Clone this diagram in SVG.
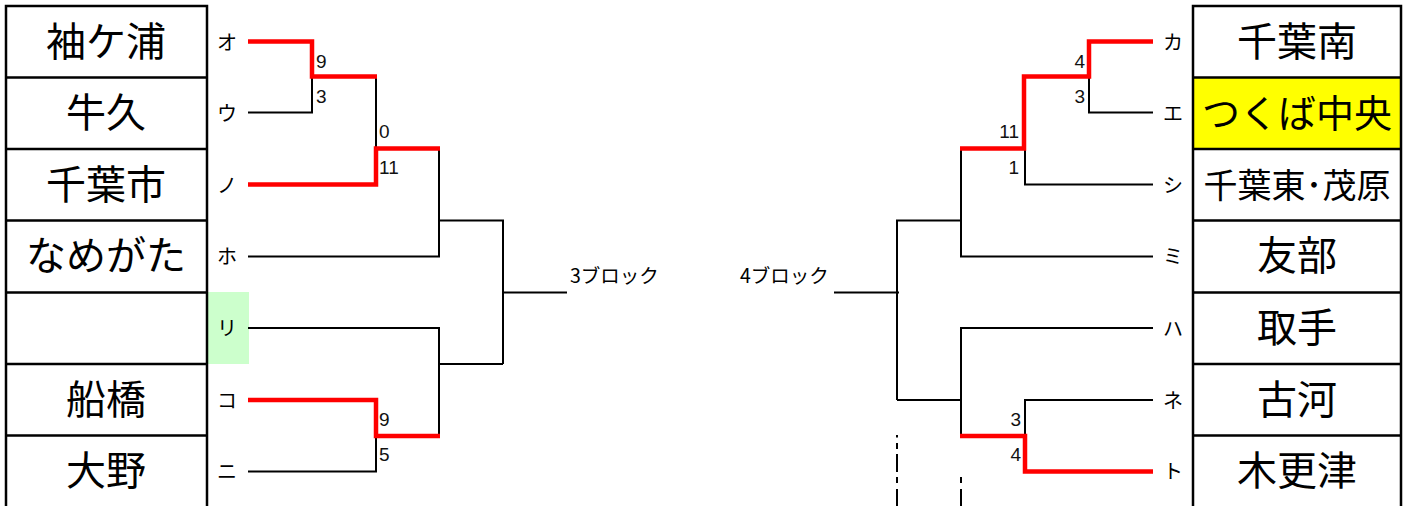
<svg xmlns="http://www.w3.org/2000/svg" width="1408" height="506" viewBox="0 0 1408 506">
<style>
.team{font-family:"Noto Sans CJK JP","Liberation Sans",sans-serif;font-size:40px;fill:#000;text-anchor:middle;dominant-baseline:central}
.kana{font-family:"Noto Sans CJK JP",sans-serif;font-size:20px;fill:#000;text-anchor:middle;dominant-baseline:central}
.score{font-family:"Liberation Sans","Noto Sans CJK JP",sans-serif;font-size:19px;fill:#111;dominant-baseline:central}
.blk{font-family:"Noto Sans CJK JP","Liberation Sans",sans-serif;font-size:19.5px;fill:#000;dominant-baseline:central}
.box{fill:none;stroke:#000;stroke-width:2.5}
.ln{fill:none;stroke:#000;stroke-width:2}
.win{fill:none;stroke:#ff0000;stroke-width:4.5;stroke-linejoin:miter}
</style>
<rect width="1408" height="506" fill="#fff"/>
<!-- highlight cells -->
<rect x="207" y="292" width="42" height="72" fill="#ccffcc"/>
<rect x="1193" y="77" width="208" height="72" fill="#ffff00"/>
<!-- team tables -->
<g id="left-table">
<path class="box" d="M6 506 V6 H207 V506 M6 77.5 H207 M6 149 H207 M6 220.5 H207 M6 292.5 H207 M6 364 H207 M6 435.5 H207"/>
</g>
<g id="right-table">
<path class="box" d="M1193 506 V6 H1401 V506 M1193 77.5 H1401 M1193 149 H1401 M1193 220.5 H1401 M1193 292.5 H1401 M1193 364 H1401 M1193 435.5 H1401"/>
</g>
<!-- left teams -->
<g id="team-sodegaura"><text class="team" x="106" y="39">袖ケ浦</text><text class="kana" x="227" y="41">オ</text></g>
<g id="team-ushiku"><text class="team" x="106" y="110">牛久</text><text class="kana" x="227" y="112">ウ</text></g>
<g id="team-chibashi"><text class="team" x="106" y="182">千葉市</text><text class="kana" x="227" y="184">ノ</text></g>
<g id="team-namegata"><text class="team" x="106" y="253">なめがた</text><text class="kana" x="227" y="255">ホ</text></g>
<g id="team-blank"><text class="kana" x="227" y="327">リ</text></g>
<g id="team-funabashi"><text class="team" x="106" y="397">船橋</text><text class="kana" x="227" y="399">コ</text></g>
<g id="team-ono"><text class="team" x="106" y="468">大野</text><text class="kana" x="227" y="470">ニ</text></g>
<!-- right teams -->
<g id="team-chibaminami"><text class="team" x="1297" y="39">千葉南</text><text class="kana" x="1173" y="41">カ</text></g>
<g id="team-tsukubachuo"><text class="team" x="1297" y="110" style="font-size:38px">つくば中央</text><text class="kana" x="1173" y="112">エ</text></g>
<g id="team-chibahigashi"><text class="team" x="1297" y="183" style="font-size:34px">千葉東･茂原</text><text class="kana" x="1173" y="184">シ</text></g>
<g id="team-yuube"><text class="team" x="1297" y="253">友部</text><text class="kana" x="1173" y="255">ミ</text></g>
<g id="team-toride"><text class="team" x="1297" y="325">取手</text><text class="kana" x="1173" y="327">ハ</text></g>
<g id="team-koga"><text class="team" x="1297" y="397">古河</text><text class="kana" x="1173" y="399">ネ</text></g>
<g id="team-kisarazu"><text class="team" x="1297" y="468">木更津</text><text class="kana" x="1173" y="470">ト</text></g>
<!-- connectors -->
<g id="connectors">
<path class="ln" d="M248 112.5 H312 V76 M376 76 V148 M248 256.5 H439 V148 M439 220.5 H503 V364 M503 292.5 H567 M248 328 H439 V436 M439 364 H503 M248 471.5 H376 V436"/>
<path class="win" d="M248 41.5 H312 V76.5 H377"/>
<path class="win" d="M248 184.5 H376 V148.5 H440"/>
<path class="win" d="M248 400 H376 V436 H440"/>
<path class="ln" d="M1153 112.5 H1089 V76 M1153 184.5 H1025 V148 M1153 256.5 H961 V148 M961 220.5 H897 V400 M834 292.5 H899 M1153 328 H961 V436 M897 400 H961 M1153 400 H1025 V436"/>
<path class="win" d="M1153 41.5 H1089 V76.5 H1024 V148.5 H960"/>
<path class="win" d="M960 436 H1025 V471.5 H1153"/>
<path class="ln" d="M897 435 V437.5 M897 443 V449 M897 454 V472 M897 477 V483 M897 489 V506 M961 477 V483 M961 489 V506"/>
</g>
<!-- scores -->
<g id="scores">
<text class="score" x="316" y="61">9</text>
<text class="score" x="316" y="96">3</text>
<text class="score" x="379" y="131">0</text>
<text class="score" x="379" y="167">11</text>
<text class="score" x="379" y="419">9</text>
<text class="score" x="379" y="454">5</text>
<text class="score" x="1085" y="61" text-anchor="end">4</text>
<text class="score" x="1085" y="96" text-anchor="end">3</text>
<text class="score" x="1019" y="131" text-anchor="end">11</text>
<text class="score" x="1019" y="167" text-anchor="end">1</text>
<text class="score" x="1021" y="419" text-anchor="end">3</text>
<text class="score" x="1021" y="454" text-anchor="end">4</text>
</g>
<g id="block-labels">
<text class="blk" x="570" y="274">3ブロック</text>
<text class="blk" x="740" y="274">4ブロック</text>
</g>
</svg>
